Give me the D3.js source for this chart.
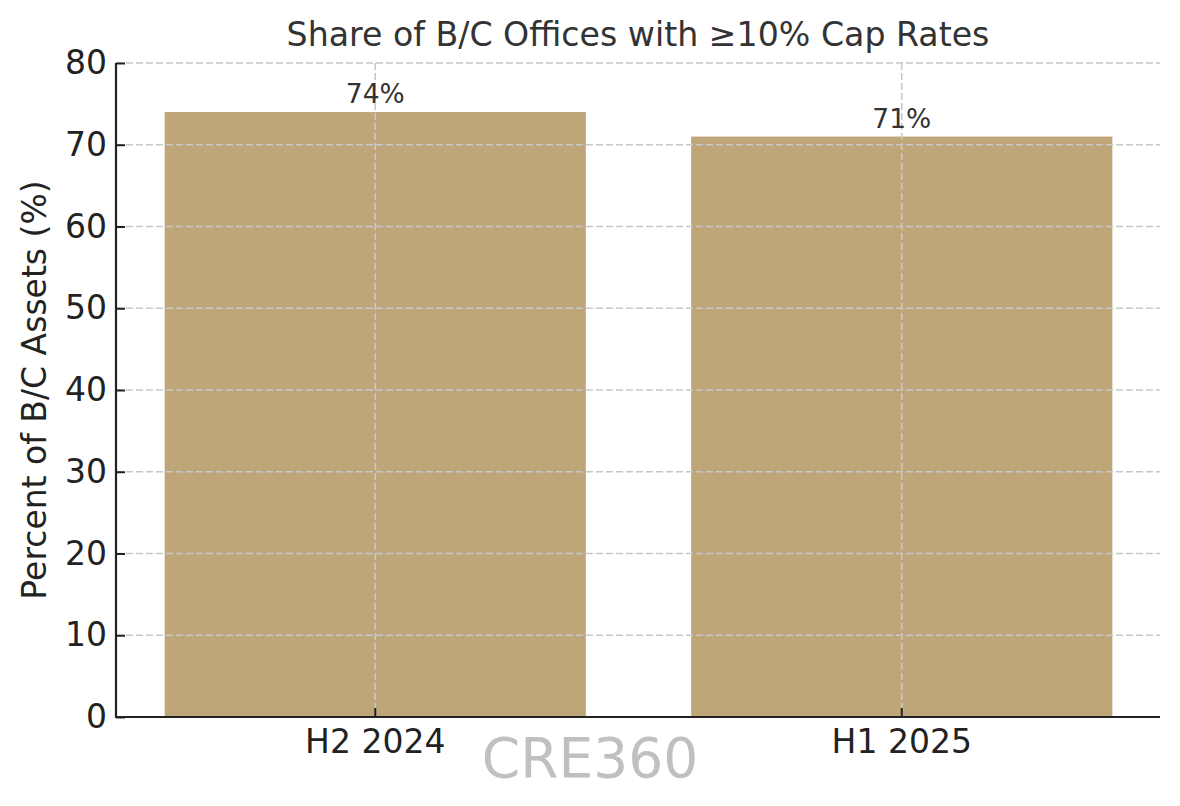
<!DOCTYPE html>
<html><head><meta charset="utf-8">
<script src="https://cdn.jsdelivr.net/npm/d3@7"></script>
<style>
html,body{margin:0;padding:0;background:#fff;}
svg{display:block;font-family:"DejaVu Sans",sans-serif;}
</style></head>
<body>
<svg id="chart" width="1180" height="806"></svg>
<script>
const categories = ["H2 2024", "H1 2025"];
const values = [74, 71];
const barLabels = ["74%", "71%"];
const yTicks = [0, 10, 20, 30, 40, 50, 60, 70, 80];
const title = "Share of B/C Offices with \u226510% Cap Rates";
const yLabel = "Percent of B/C Assets (%)";
const watermark = "CRE360";

const svg = d3.select("#chart");
const L = 116, R = 1160, T = 63, B = 717;

const x = d3.scaleBand().domain(categories).range([112, 1165]).paddingInner(0.2).paddingOuter(0.1);
const y = d3.scaleLinear().domain([0, 80]).range([B, T]);

// bars
svg.append("g").selectAll("rect").data(values).join("rect")
  .attr("x", (d, i) => x(categories[i]))
  .attr("y", d => y(d))
  .attr("width", x.bandwidth())
  .attr("height", d => y(0) - y(d))
  .attr("fill", "#bfa679");

// grid (drawn above bars)
const grid = svg.append("g").attr("stroke", "#c8c8c8").attr("stroke-width", 1.6).attr("stroke-dasharray", "7,3");
grid.selectAll("line.h").data(yTicks).join("line").attr("class", "h")
  .attr("x1", L).attr("x2", R).attr("y1", d => y(d)).attr("y2", d => y(d));
grid.selectAll("line.v").data(categories).join("line").attr("class", "v")
  .attr("x1", d => x(d) + x.bandwidth() / 2).attr("x2", d => x(d) + x.bandwidth() / 2)
  .attr("y1", T).attr("y2", B);

// axes
const yAxis = svg.append("g").attr("transform", `translate(${L},0)`)
  .call(d3.axisLeft(y).tickValues(yTicks).tickSizeInner(-9).tickSizeOuter(0).tickPadding(9));
const xAxis = svg.append("g").attr("transform", `translate(0,${B})`)
  .call(d3.axisBottom(x).tickSizeInner(-9).tickSizeOuter(0).tickPadding(13));
[yAxis, xAxis].forEach(a => {
  a.select(".domain").remove();
  a.selectAll(".tick line").attr("stroke", "#222").attr("stroke-width", 2);
  a.selectAll(".tick text").attr("fill", "#222").style("font-size", "33px").style("font-family", "DejaVu Sans");
});
xAxis.selectAll(".tick text").attr("dy", "0.71em");
// spines
svg.append("line").attr("x1", L).attr("x2", L).attr("y1", T).attr("y2", B + 1).attr("stroke", "#222").attr("stroke-width", 2.2);
svg.append("line").attr("x1", L - 1).attr("x2", R).attr("y1", B).attr("y2", B).attr("stroke", "#222").attr("stroke-width", 2.2);

// bar labels
svg.append("g").selectAll("text").data(values).join("text")
  .attr("x", (d, i) => x(categories[i]) + x.bandwidth() / 2)
  .attr("y", d => y(d) - 9)
  .attr("text-anchor", "middle")
  .attr("fill", "#333")
  .style("font-size", "26.5px")
  .text((d, i) => barLabels[i]);

// title
svg.append("text").attr("x", (L + R) / 2).attr("y", 46).attr("text-anchor", "middle")
  .attr("fill", "#333").style("font-size", "33.2px").text(title);

// y label
svg.append("text").attr("transform", `translate(46,${(T + B) / 2}) rotate(-90)`)
  .attr("text-anchor", "middle").attr("fill", "#222").style("font-size", "33px").text(yLabel);

// watermark
svg.append("text").attr("x", 590).attr("y", 777).attr("text-anchor", "middle")
  .attr("fill", "#c0c0c0").style("font-size", "55px").text(watermark);
</script>
</body></html>
